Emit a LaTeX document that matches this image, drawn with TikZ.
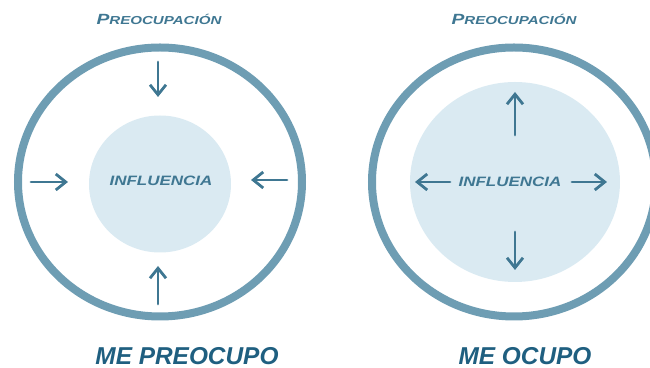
\documentclass[tikz,border=0pt]{standalone}
\usepackage{fontspec}
\setmainfont{Liberation Sans}
\usetikzlibrary{arrows.meta,positioning,shapes.geometric}
\definecolor{ringblue}{HTML}{6E9DB3}
\definecolor{diskblue}{HTML}{DAEAF2}
\definecolor{inkblue}{HTML}{3F7792}
\definecolor{titleblue}{HTML}{1F5F80}

\begin{document}
\begin{tikzpicture}[x=0.5pt, y=-0.5pt]
\tikzset{
    myring/.style={ellipse, draw=ringblue, line width=4pt, inner sep=0pt, minimum width=142pt, minimum height=134.5pt},
    mydisk/.style={ellipse, fill=diskblue, inner sep=0pt},
    myarrow/.style={-{Straight Barb[length=5pt, width=8pt, line width=1.4pt]}, draw=inkblue, line width=1.4pt, line cap=round},
    myhand/.style={text=inkblue, font=\bfseries\itshape, inner sep=0pt},
    mytitle/.style={text=titleblue, font=\fontsize{12.2}{14}\selectfont\bfseries\itshape, inner sep=0pt}
}
\useasboundingbox (0,0) rectangle (650,368);
\clip (0,0) rectangle (650,368);

% me preocupo
\node[mydisk, minimum width=71pt, minimum height=68.5pt] (disk1) at (160,184) {};
\node[myring] (ring1) at (160,182) {};
\node[myhand] (infl1) at (161,181) {\scalebox{1.25}[1]{\fontsize{6.8}{8}\selectfont INFLUENCIA}};
\node[myhand] (preo1) at (159,19) {\scalebox{1.3}[1]{{\fontsize{7.4}{8}\selectfont P}\fontsize{5.8}{7}\selectfont REOCUPACIÓN}};
\node[mytitle] (label1) at (187,356) {ME PREOCUPO};

\coordinate (t1a) at (158,62);  \coordinate (t1b) at (158,97);
\coordinate (b1a) at (158,304); \coordinate (b1b) at (158,266);
\coordinate (l1a) at (31,182);  \coordinate (l1b) at (68,182);
\coordinate (r1a) at (287,180); \coordinate (r1b) at (251,180);
\draw[myarrow] (t1a) -- (t1b);
\draw[myarrow] (b1a) -- (b1b);
\draw[myarrow] (l1a) -- (l1b);
\draw[myarrow] (r1a) -- (r1b);

% me ocupo
\node[mydisk, minimum width=105pt, minimum height=100pt] (disk2) at (515,182) {};
\node[myring] (ring2) at (514,182) {};
\node[myhand] (infl2) at (510,182) {\scalebox{1.25}[1]{\fontsize{6.8}{8}\selectfont INFLUENCIA}};
\node[myhand] (preo2) at (514,19) {\scalebox{1.3}[1]{{\fontsize{7.4}{8}\selectfont P}\fontsize{5.8}{7}\selectfont REOCUPACIÓN}};
\node[mytitle] (label2) at (525,356) {ME OCUPO};

\coordinate (t2a) at (515,135); \coordinate (t2b) at (515,92);
\coordinate (b2a) at (515,232); \coordinate (b2b) at (515,270);
\coordinate (l2a) at (450,182); \coordinate (l2b) at (415,182);
\coordinate (r2a) at (572,182); \coordinate (r2b) at (607,182);
\draw[myarrow] (t2a) -- (t2b);
\draw[myarrow] (b2a) -- (b2b);
\draw[myarrow] (l2a) -- (l2b);
\draw[myarrow] (r2a) -- (r2b);

\end{tikzpicture}
\end{document}
